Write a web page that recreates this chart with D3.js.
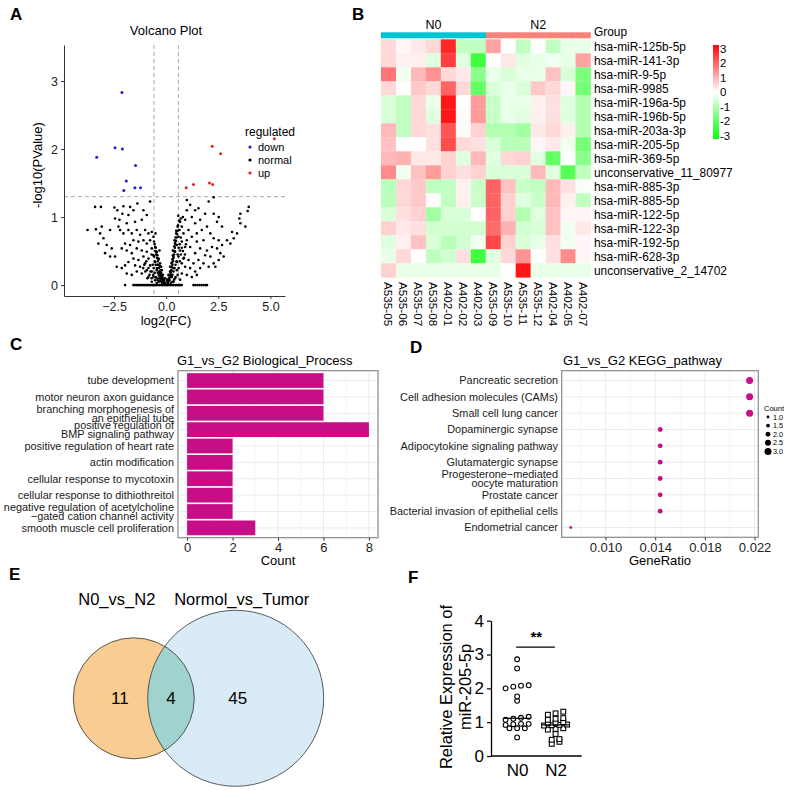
<!DOCTYPE html>
<html>
<head>
<meta charset="utf-8">
<script src="https://cdn.jsdelivr.net/npm/d3@7"></script>
<style>
body { margin: 0; background: #fff; }
text { font-family: "Liberation Sans", Arial, sans-serif; fill: #000; }
</style>
</head>
<body>
<svg width="790" height="790"></svg>
<script>
// ---------- A: volcano ----------
const downPts = [[-3.33,1.88],[-2.45,2.02],[-2.12,2.83],[-2.1,2.0],[-1.47,1.76],[-1.91,1.53],[-2.03,1.39],[-1.5,1.43],[-1.23,1.43]];
const upPts = [[0.96,1.43],[1.31,1.48],[2.08,1.5],[2.23,1.48],[2.21,2.04],[2.61,1.93],[5.19,2.15]];
const normalPts = [
  [-3.41,1.15],[-3.13,1.15],[-3.77,0.81],[-3.37,0.82],[-3.09,0.86],[-2.48,1.14],[-2.34,1.1],[-2.05,1.16],[-2.1,1.05],
  [-2.45,0.98],[-2.24,0.96],[-1.73,1.15],[-1.38,1.2],[-1.57,1.1],[-1.81,1.03],[-1.09,1.1],[-0.77,1.23],[-0.93,1.03],
  [-1.17,0.96],[-1.49,0.93],[-1.89,0.91],[-2.29,0.86],[-2.69,0.81],[-3.17,0.76],[-3.01,0.69],[-3.25,0.61],[-2.85,0.59],
  [-2.61,0.54],[-2.93,0.47],[-2.69,0.42],[-2.45,0.42],[-2.37,0.27],[-2.13,0.25],[-1.97,0.29],[-2.21,0.81],[-2.05,0.76],
  [-1.81,0.81],[-1.65,0.76],[-1.41,0.81],[-1.25,0.74],[-1.01,0.81],[-0.85,0.76],[-0.69,0.78],[-0.61,0.71],[-0.77,0.66],
  [-0.93,0.61],[-1.09,0.66],[-1.33,0.64],[-1.57,0.66],[-1.73,0.59],[-1.97,0.61],[-2.13,0.54],[-1.89,0.51],[-1.65,0.47],
  [-1.41,0.54],[-1.17,0.51],[-0.93,0.49],[-0.69,0.54],[-0.53,0.56],[-0.45,0.49],[-0.61,0.44],[-0.85,0.39],[-1.09,0.42],
  [-1.33,0.37],[-1.57,0.39],[-1.81,0.34],[-1.49,0.29],[-1.25,0.27],[-1.01,0.32],[-0.77,0.29],[-0.53,0.34],[-0.37,0.39],
  [-0.29,0.32],[-0.45,0.25],[-0.69,0.2],[-0.93,0.22],[-1.17,0.17],[-1.41,0.2],[-1.65,0.15],[-1.89,0.17],[-0.85,0.12],
  [-0.61,0.12],[-0.37,0.17],[-0.21,0.22],[-0.16,0.15],[-0.32,0.1],[-0.53,0.07],[-0.13,0.07],[-0.21,0.05],[-0.06,0.1],
  [-0.05,0.03],[-0.45,0.03],[-0.69,0.05],[-0.24,0.27],[-0.42,0.44],[-0.32,0.51],[-0.58,0.64],[-0.51,0.76],
  [-0.55,0.6],[-0.5,0.55],[-0.48,0.45],[-0.44,0.4],[-0.4,0.35],[-0.38,0.3],[-0.35,0.25],[-0.33,0.2],[-0.3,0.18],
  [-0.28,0.15],[-0.25,0.12],[-0.22,0.1],[-0.2,0.08],[-0.18,0.06],[-0.15,0.05],[-0.12,0.04],[-0.1,0.03],[-0.08,0.02],
  [-0.05,0.01],[-0.52,0.5],[-0.46,0.48],[-0.42,0.3],[-0.36,0.38],[-0.3,0.28],[-0.26,0.22],[-0.24,0.18],[-0.2,0.14],
  [-0.17,0.11],[-0.14,0.09],[-0.11,0.07],[-0.09,0.05],[-0.58,0.42],[-0.55,0.35],[-0.5,0.3],[-0.45,0.22],[-0.4,0.18],
  [-0.35,0.14],[-0.3,0.1],[-0.27,0.07],[-0.23,0.05],[-0.19,0.03],[-0.6,0.25],[-0.55,0.18],[-0.5,0.12],[-0.45,0.1],
  [-0.4,0.07],[-0.35,0.05],[-0.62,0.15],[-0.7,0.1],[-0.65,0.3],[-0.7,0.45],[-0.75,0.2],[-0.8,0.15],[-0.85,0.25],
  [-0.9,0.1],[-1.0,0.2],[-0.95,0.35],[-1.05,0.3],[-1.1,0.25],
  [0.99,1.25],[2.28,1.29],[2.04,1.23],[1.39,1.1],[1.55,1.13],[1.15,1.18],[0.99,1.1],[3.96,1.15],[3.91,1.09],[3.56,1.05],
  [3.51,0.98],[3.56,0.91],[3.8,0.86],[2.44,0.93],[2.68,0.86],[3.24,0.69],[3.08,0.61],[2.92,0.66],[1.96,0.86],[1.71,0.81],
  [1.47,0.76],[1.79,0.66],[2.12,0.76],[2.28,0.69],[2.52,0.66],[2.68,0.59],[2.44,0.54],[2.2,0.56],[1.96,0.51],[1.63,0.54],
  [1.39,0.47],[1.15,0.56],[0.99,0.66],[0.83,0.76],[0.75,0.86],[0.67,0.93],[0.8,1.0],[0.91,0.96],[0.64,0.81],[0.59,0.71],
  [0.75,0.64],[0.91,0.56],[0.67,0.51],[0.51,0.59],[0.43,0.49],[0.59,0.42],[0.83,0.39],[1.07,0.37],[1.31,0.32],[1.55,0.37],
  [1.79,0.32],[2.04,0.27],[2.28,0.32],[2.52,0.37],[2.76,0.42],[2.6,0.47],[2.36,0.27],[2.12,0.42],[1.87,0.44],[1.63,0.25],
  [1.39,0.2],[1.15,0.25],[0.91,0.27],[0.75,0.32],[0.51,0.34],[0.35,0.42],[0.27,0.32],[0.35,0.25],[0.51,0.22],[0.75,0.17],
  [0.99,0.15],[1.23,0.12],[1.47,0.15],[0.19,0.2],[0.11,0.15],[0.27,0.12],[0.43,0.1],[0.67,0.08],[0.16,0.07],[0.06,0.05],
  [0.22,0.03],[0.35,0.05],[0.03,0.08],[0.19,0.27],[0.32,0.51],[0.4,0.66],[0.48,0.76],[0.55,0.86],[3.16,0.78],[3.4,0.76],
  [2.28,1.05],[2.52,1.0],[1.63,0.96],[1.87,1.05],[1.23,1.0],[1.39,0.91],[1.07,0.81],[1.23,0.71],[1.47,0.64],
  [0.05,0.01],[0.08,0.03],[0.1,0.05],[0.12,0.07],[0.15,0.09],[0.18,0.12],[0.2,0.15],[0.22,0.18],[0.25,0.22],[0.28,0.26],
  [0.3,0.3],[0.33,0.35],[0.35,0.4],[0.38,0.45],[0.4,0.5],[0.42,0.55],[0.45,0.6],[0.47,0.65],[0.5,0.7],[0.52,0.75],
  [0.55,0.8],[0.57,0.88],[0.13,0.1],[0.16,0.14],[0.2,0.2],[0.24,0.27],[0.27,0.33],[0.3,0.38],[0.32,0.44],[0.36,0.5],
  [0.39,0.57],[0.42,0.62],[0.45,0.7],[0.48,0.8],[0.25,0.12],[0.3,0.15],[0.35,0.2],[0.4,0.25],[0.45,0.3],[0.5,0.35],
  [0.55,0.45],[0.6,0.55],[0.65,0.6],[0.7,0.7],[0.3,0.05],[0.38,0.08],[0.45,0.12],[0.55,0.15],[0.6,0.25],[0.65,0.35],
  [0.7,0.45],[0.75,0.55],[0.8,0.5],[0.85,0.4],[0.9,0.45],[0.95,0.6],[0.62,0.95],[0.58,1.02],[0.7,0.98]
];
const zeroLineFC = [-1.97,-1.57,-1.5,-1.42,-1.35,-1.27,-1.2,-1.12,-1.05,-0.97,-0.9,-0.82,-0.75,-0.67,-0.6,-0.52,-0.45,
  -0.37,-0.3,-0.22,-0.15,-0.07,0,0.07,0.15,0.22,0.3,0.37,0.45,0.52,0.6,0.67,0.75,1.31,1.4,1.5,1.6,1.7,1.8,1.9,1.96];
const fcCut = 0.585, pCut = 1.3;
const volcanoXTicks = [-2.5, 0, 2.5, 5];
const volcanoYTicks = [0, 1, 2, 3];
const regLevels = ['down', 'normal', 'up'];
const regColors = ['#1f1fd0', '#000000', '#e8201c'];

// ---------- B: heatmap ----------
const groupN0 = ['A535-05','A535-06','A535-07','A535-08','A402-01','A402-02','A402-03'];
const groupN2 = ['A535-09','A535-10','A535-11','A535-12','A402-04','A402-05','A402-07'];
const mirnas = ['hsa-miR-125b-5p','hsa-miR-141-3p','hsa-miR-9-5p','hsa-miR-9985','hsa-miR-196a-5p','hsa-miR-196b-5p',
  'hsa-miR-203a-3p','hsa-miR-205-5p','hsa-miR-369-5p','unconservative_11_80977','hsa-miR-885-3p','hsa-miR-885-5p',
  'hsa-miR-122-5p','hsa-miR-122-3p','hsa-miR-192-5p','hsa-miR-628-3p','unconservative_2_14702'];
const heatValues = [
  [0.5,0.1,0.3,0.5,2.8,-0.8,-0.8,1.2,0,-0.8,0,-0.8,-0.3,-0.3],
  [0.5,0.2,0.2,-0.4,2.5,-0.4,-2.5,0,0.3,-0.4,-0.3,-0.2,-0.3,1.2],
  [1.8,-0.2,0.9,1.4,0.5,0.3,-1.5,-0.3,-0.5,-0.3,-0.3,0.8,-0.5,-1.7],
  [0.5,0,0.7,0.5,2.0,0.5,-2.0,-0.5,-0.3,-0.5,0.7,0.5,0.1,-1.8],
  [-0.5,-0.8,0.5,-0.3,3.0,0,1.3,-0.7,-0.3,-0.3,0.2,0.4,-0.4,-1.0],
  [-0.5,-0.8,0.5,-0.4,3.0,0.05,1.3,-0.7,-0.3,-0.4,0.2,0.4,-0.4,-1.0],
  [0.9,-0.8,0.5,0.4,2.2,0.05,0.6,-1.0,-1.0,-1.2,0.3,0.5,0.2,-1.0],
  [0.8,0,0,0.4,2.3,0.5,0.4,-0.5,-0.9,-0.9,0.1,0.3,-0.2,-1.8],
  [0.9,1.0,0.3,0.3,0.6,-0.4,0.9,-0.4,0.5,0.6,-0.4,-2.0,0,-1.5],
  [1.5,-0.2,0.8,1.3,0.6,0.4,0.6,-0.5,-0.5,-0.5,0.9,-0.4,-2.2,-0.8],
  [-0.9,0.5,0.7,-0.8,-0.8,0.2,-0.7,2.0,0.8,-0.7,-0.8,0.9,0.4,-0.1],
  [-0.9,0.5,0.7,0,-0.8,0.2,-0.7,2.0,0.6,-0.4,-0.7,0.9,0.2,-0.8],
  [-0.5,0.4,0.6,-1.2,-0.5,-0.5,0,2.0,0.6,-1.0,-0.4,0.8,0.1,0.1],
  [0.6,0.3,0.4,-0.6,-0.6,-0.6,-0.6,1.9,1.0,-0.6,-0.5,0.8,-0.2,0.3],
  [-0.4,0.2,0.8,-0.5,-0.9,-0.6,-0.2,2.4,0.6,-0.5,-0.3,0.4,-0.2,0.1],
  [-0.3,0.5,0,-0.8,-0.6,0.4,-2.5,-0.4,0.5,1.4,0,0.4,1.5,0.1],
  [0.6,-0.3,-0.3,-0.3,-0.3,-0.3,-0.3,-0.3,0,3.0,-0.3,-0.3,-0.3,-0.3]
];
const heatLegendTicks = [3, 2, 1, 0, -1, -2, -3];

// ---------- C: GO biological process ----------
const bpTerms = ['tube development','motor neuron axon guidance','branching morphogenesis of|an epithelial tube',
  'positive regulation of|BMP signaling pathway','positive regulation of heart rate','actin modification',
  'cellular response to mycotoxin','cellular response to dithiothreitol',
  'negative regulation of acetylcholine|\u2212gated cation channel activity','smooth muscle cell proliferation'];
const bpCounts = [6, 6, 6, 8, 2, 2, 2, 2, 2, 3];
const bpTicks = [0, 2, 4, 6, 8];

// ---------- D: KEGG ----------
const keggTerms = ['Pancreatic secretion','Cell adhesion molecules (CAMs)','Small cell lung cancer','Dopaminergic synapse',
  'Adipocytokine signaling pathway','Glutamatergic synapse','Progesterone\u2212mediated|oocyte maturation',
  'Prostate cancer','Bacterial invasion of epithelial cells','Endometrial cancer'];
const keggCounts = [3, 3, 3, 2, 2, 2, 2, 2, 2, 1];
const keggRatios = [0.0216, 0.0216, 0.0216, 0.0144, 0.0144, 0.0144, 0.0144, 0.0144, 0.0144, 0.0072];
const keggTicks = [0.010, 0.014, 0.018, 0.022];
const countLegend = [1.0, 1.5, 2.0, 2.5, 3.0];

// ---------- E: Venn ----------
const vennSets = ['N0_vs_N2', 'Normol_vs_Tumor'];
const vennOnly = [11, 45];
const vennBoth = 4;

// ---------- F: scatter ----------
const fGroups = ['N0', 'N2'];
const n0Values = [2.86,2.59,2.08,2.0,2.05,2.09,1.76,1.63,1.16,1.13,1.07,1.1,0.92,0.94,0.95,0.95,0.82,0.82,0.82,0.55];
const n2Values = [1.31,1.26,1.22,1.1,1.07,1.12,1.0,0.98,0.97,0.93,0.92,0.91,0.9,0.8,0.78,0.82,0.65,0.5,0.48,0.42,0.36];
const fTicks = [0, 1, 2, 3, 4];

const magenta = '#C70E86';
const svg = d3.select('svg');
svg.append('rect').attr('width', 790).attr('height', 790).attr('fill', '#fff');

const letters = [['A', 10, 20], ['B', 352, 20], ['C', 10, 350], ['D', 410, 353], ['E', 9, 580], ['F', 408, 583]];
letters.forEach(l => svg.append('text').attr('x', l[1]).attr('y', l[2])
  .style('font-size', '17px').style('font-weight', 'bold').text(l[0]));

function styleAxis(g, size, color) {
  g.selectAll('text').style('font-size', size + 'px').style('fill', color);
  g.selectAll('line').attr('stroke', '#333');
  g.select('.domain').attr('stroke', '#333');
}

// ===== A =====
{
  const x = d3.scaleLinear().domain([-4.9, 5.7]).range([64, 285]);
  const y = d3.scaleLinear().domain([-0.16, 3.53]).range([296, 45]);
  const g = svg.append('g');
  g.append('text').attr('x', 166).attr('y', 35).attr('text-anchor', 'middle').style('font-size', '13px').text('Volcano Plot');
  [-fcCut, fcCut].forEach(v => g.append('line').attr('x1', x(v)).attr('x2', x(v)).attr('y1', 45).attr('y2', 296)
    .attr('stroke', '#a8a8a8').attr('stroke-dasharray', '4,3'));
  g.append('line').attr('x1', 64).attr('x2', 285).attr('y1', y(pCut)).attr('y2', y(pCut))
    .attr('stroke', '#a8a8a8').attr('stroke-dasharray', '4,3');
  const all = normalPts.concat(zeroLineFC.map(v => [v, 0]));
  g.selectAll('.n').data(all).join('circle').attr('cx', d => x(d[0])).attr('cy', d => y(d[1])).attr('r', 1.3).attr('fill', '#000');
  g.selectAll('.d').data(downPts).join('circle').attr('cx', d => x(d[0])).attr('cy', d => y(d[1])).attr('r', 1.5).attr('fill', regColors[0]);
  g.selectAll('.u').data(upPts).join('circle').attr('cx', d => x(d[0])).attr('cy', d => y(d[1])).attr('r', 1.5).attr('fill', regColors[2]);
  const xa = g.append('g').attr('transform', 'translate(0,296)')
    .call(d3.axisBottom(x).tickValues(volcanoXTicks).tickFormat(d3.format('.1f')).tickSize(3).tickSizeOuter(0));
  const ya = g.append('g').attr('transform', 'translate(64,0)')
    .call(d3.axisLeft(y).tickValues(volcanoYTicks).tickFormat(d3.format('d')).tickSize(3).tickSizeOuter(0));
  styleAxis(xa, 12.5, '#222'); styleAxis(ya, 12.5, '#222');
  g.append('text').attr('x', 166).attr('y', 325).attr('text-anchor', 'middle').style('font-size', '13px').text('log2(FC)');
  g.append('text').attr('transform', 'translate(42,165) rotate(-90)').attr('text-anchor', 'middle').style('font-size', '13px').text('-log10(PValue)');
  g.append('text').attr('x', 245).attr('y', 136).style('font-size', '12px').text('regulated');
  regLevels.forEach((r, i) => {
    g.append('circle').attr('cx', 250).attr('cy', 147 + i * 13).attr('r', 1.6).attr('fill', regColors[i]);
    g.append('text').attr('x', 258).attr('y', 151 + i * 13).style('font-size', '11px').text(r);
  });
}

// ===== B =====
{
  const samples = groupN0.concat(groupN2);
  const x = d3.scaleBand().domain(samples).range([381, 590.5]);
  const y = d3.scaleBand().domain(mirnas).range([39.3, 277.3]);
  const color = d3.scaleLinear().domain([-3.3, 0, 3.3]).range(['#00ff00', '#ffffff', '#ff0000']).clamp(true);
  const g = svg.append('g');
  const cells = [];
  heatValues.forEach((row, r) => row.forEach((v, c) => cells.push({ m: mirnas[r], s: samples[c], v })));
  g.selectAll('.cell').data(cells).join('rect').attr('x', d => x(d.s)).attr('y', d => y(d.m))
    .attr('width', x.bandwidth() + 0.3).attr('height', y.bandwidth() + 0.3).attr('fill', d => color(d.v));
  g.selectAll('.grp').data(samples).join('rect').attr('x', d => x(d)).attr('y', 32.3)
    .attr('width', x.bandwidth() + 0.3).attr('height', 6).attr('fill', d => groupN0.includes(d) ? '#00C5CF' : '#F6837A');
  g.append('text').attr('x', d3.mean(groupN0, d => x(d)) + x.bandwidth() / 2).attr('y', 29).attr('text-anchor', 'middle').style('font-size', '12.5px').text('N0');
  g.append('text').attr('x', d3.mean(groupN2, d => x(d)) + x.bandwidth() / 2).attr('y', 29).attr('text-anchor', 'middle').style('font-size', '12.5px').text('N2');
  g.append('text').attr('x', 594).attr('y', 35.5).style('font-size', '11.9px').text('Group');
  g.selectAll('.rl').data(mirnas).join('text').attr('x', 594).attr('y', d => y(d) + y.bandwidth() / 2)
    .attr('dy', '0.36em').style('font-size', '11.9px').text(d => d);
  g.selectAll('.cl').data(samples).join('text')
    .attr('transform', d => `translate(${x(d) + x.bandwidth() / 2},282) rotate(90)`)
    .attr('dy', '0.36em').style('font-size', '11.7px').text(d => d);
  // colour key
  const ly = d3.scaleLinear().domain([-3.25, 3.25]).range([139, 45]);
  const grad = svg.append('defs').append('linearGradient').attr('id', 'hg').attr('x1', 0).attr('x2', 0).attr('y1', 1).attr('y2', 0);
  [-3.25, 0, 3.25].forEach((v, i) => grad.append('stop').attr('offset', i / 2).attr('stop-color', color(v)));
  g.append('rect').attr('x', 713).attr('y', ly(3.25)).attr('width', 6).attr('height', ly(-3.25) - ly(3.25)).attr('fill', 'url(#hg)');
  g.selectAll('.lt').data(heatLegendTicks).join('text').attr('x', 720).attr('y', d => ly(d)).attr('dy', '0.36em')
    .style('font-size', '11.5px').text(d => d);
}

// ===== helper for C / D term labels =====
function termLabels(g, terms, y, xr) {
  terms.forEach(t => {
    const lines = t.split('|');
    const tx = g.append('text').attr('text-anchor', 'end').style('font-size', '10.9px').style('fill', '#1a1a1a');
    lines.forEach((l, i) => tx.append('tspan').attr('x', xr)
      .attr('y', y(t) + (i - (lines.length - 1) / 2) * 9.2).attr('dy', '0.36em').text(l));
  });
}

// ===== C =====
{
  const x = d3.scaleLinear().domain([-0.4, 8.4]).range([178, 378]);
  const y = d3.scalePoint().domain(bpTerms).range([370.7, 537.7]).padding(0.6);
  const g = svg.append('g');
  d3.range(0, 9).forEach(v => g.append('line').attr('x1', x(v)).attr('x2', x(v)).attr('y1', 370.7).attr('y2', 537.7)
    .attr('stroke', '#ebebeb').attr('stroke-width', v % 2 ? 0.5 : 1));
  bpTerms.forEach(t => g.append('line').attr('x1', 178).attr('x2', 378).attr('y1', y(t)).attr('y2', y(t)).attr('stroke', '#ebebeb'));
  const h = y.step() * 0.9;
  g.selectAll('.bar').data(bpTerms).join('rect').attr('x', x(0)).attr('y', t => y(t) - h / 2)
    .attr('width', (t, i) => x(bpCounts[i]) - x(0)).attr('height', h).attr('fill', magenta);
  g.append('rect').attr('x', 178).attr('y', 370.7).attr('width', 200).attr('height', 167).attr('fill', 'none')
    .attr('stroke', '#8a8a8a').attr('stroke-width', 1.2);
  const xa = g.append('g').attr('transform', 'translate(0,537.7)')
    .call(d3.axisBottom(x).tickValues(bpTicks).tickSize(3).tickPadding(2).tickSizeOuter(0));
  xa.select('.domain').remove();
  styleAxis(xa, 13, '#222');
  g.append('text').attr('x', 278).attr('y', 565).attr('text-anchor', 'middle').style('font-size', '13px').text('Count');
  g.append('text').attr('x', 177).attr('y', 365).style('font-size', '13px').text('G1_vs_G2 Biological_Process');
  termLabels(g, bpTerms, y, 174);
}

// ===== D =====
{
  const x = d3.scaleLinear().domain([0.00647, 0.0223]).range([561.7, 758.3]);
  const y = d3.scalePoint().domain(keggTerms).range([370.7, 537.3]).padding(0.6);
  const r = d3.scaleLinear().domain([1, 3]).range([1.4, 3.5]);
  const g = svg.append('g');
  [0.008, 0.012, 0.016, 0.020].forEach(v => g.append('line').attr('x1', x(v)).attr('x2', x(v)).attr('y1', 370.7).attr('y2', 537.3)
    .attr('stroke', '#ebebeb').attr('stroke-width', 0.5));
  keggTicks.forEach(v => g.append('line').attr('x1', x(v)).attr('x2', x(v)).attr('y1', 370.7).attr('y2', 537.3)
    .attr('stroke', '#ebebeb'));
  keggTerms.forEach(t => g.append('line').attr('x1', 561.7).attr('x2', 758.3).attr('y1', y(t)).attr('y2', y(t)).attr('stroke', '#ebebeb'));
  g.selectAll('.dot').data(keggTerms).join('circle').attr('cx', (t, i) => x(keggRatios[i])).attr('cy', t => y(t))
    .attr('r', (t, i) => r(keggCounts[i])).attr('fill', magenta);
  g.append('rect').attr('x', 561.7).attr('y', 370.7).attr('width', 196.6).attr('height', 166.6).attr('fill', 'none')
    .attr('stroke', '#8a8a8a').attr('stroke-width', 1.2);
  const xa = g.append('g').attr('transform', 'translate(0,537.3)')
    .call(d3.axisBottom(x).tickValues(keggTicks).tickFormat(d3.format('.3f')).tickSize(3).tickPadding(2).tickSizeOuter(0));
  xa.select('.domain').remove();
  styleAxis(xa, 13, '#222');
  g.append('text').attr('x', 660).attr('y', 565).attr('text-anchor', 'middle').style('font-size', '13px').text('GeneRatio');
  g.append('text').attr('x', 563).attr('y', 365).style('font-size', '13px').text('G1_vs_G2 KEGG_pathway');
  termLabels(g, keggTerms, y, 558);
  g.append('text').attr('x', 764).attr('y', 411).style('font-size', '7.5px').text('Count');
  countLegend.forEach((c, i) => {
    g.append('circle').attr('cx', 768).attr('cy', 417 + i * 8.6).attr('r', r(c)).attr('fill', '#000');
    g.append('text').attr('x', 773).attr('y', 417 + i * 8.6).attr('dy', '0.36em').style('font-size', '7.3px').text(c.toFixed(1));
  });
}

// ===== E =====
{
  const sizes = [vennOnly[0] + vennBoth, vennOnly[1] + vennBoth];
  const rs = d3.scaleLinear().domain([15, 49]).range([60.5, 88]);
  const r1 = rs(sizes[0]), r2 = rs(sizes[1]);
  const cy = 698.3, cx1 = 73.3 + r1, overlap = 46.6;
  const cx2 = cx1 + r1 + r2 - overlap;
  const g = svg.append('g');
  const defs = svg.append('defs');
  defs.append('clipPath').attr('id', 'vc').append('circle').attr('cx', cx1).attr('cy', cy).attr('r', r1);
  g.append('circle').attr('cx', cx1).attr('cy', cy).attr('r', r1).attr('fill', '#F9CD92');
  g.append('circle').attr('cx', cx2).attr('cy', cy).attr('r', r2).attr('fill', '#D8EBF6');
  g.append('circle').attr('cx', cx2).attr('cy', cy).attr('r', r2).attr('fill', '#A0D3CD').attr('clip-path', 'url(#vc)');
  g.append('circle').attr('cx', cx1).attr('cy', cy).attr('r', r1).attr('fill', 'none').attr('stroke', '#333').attr('stroke-width', 0.8);
  g.append('circle').attr('cx', cx2).attr('cy', cy).attr('r', r2).attr('fill', 'none').attr('stroke', '#333').attr('stroke-width', 0.8);
  const fs = '17px';
  g.append('text').attr('x', cx1 - 14).attr('y', cy).attr('dy', '0.36em').attr('text-anchor', 'middle').style('font-size', fs).text(vennOnly[0]);
  g.append('text').attr('x', (cx2 - r2 + cx1 + r1) / 2).attr('y', cy).attr('dy', '0.36em').attr('text-anchor', 'middle').style('font-size', fs).text(vennBoth);
  g.append('text').attr('x', cx2 + 2).attr('y', cy).attr('dy', '0.36em').attr('text-anchor', 'middle').style('font-size', fs).text(vennOnly[1]);
  g.append('text').attr('x', cx1 - 17).attr('y', 605).attr('text-anchor', 'middle').style('font-size', '16.5px').text(vennSets[0]);
  g.append('text').attr('x', cx2 + 6).attr('y', 605).attr('text-anchor', 'middle').style('font-size', '16.5px').text(vennSets[1]);
}

// ===== F =====
{
  const x = d3.scalePoint().domain(fGroups).range([491, 581.7]).padding(0.68);
  const y = d3.scaleLinear().domain([0, 4]).range([756, 620.7]);
  const g = svg.append('g');
  // simple row-wise dot plot layout: near-equal values share a row, centred on the group
  function rows(vals, gx) {
    const out = [];
    let row = [];
    vals.slice().sort((a, b) => a - b).forEach(v => {
      if (row.length && (v - row[0] >= 0.1 || row.length === 4)) { out.push(row); row = []; }
      row.push(v);
    });
    if (row.length) out.push(row);
    const pts = [];
    out.forEach(r => r.forEach((v, i) => pts.push([gx + (i - (r.length - 1) / 2) * 7.7, y(v)])));
    return pts;
  }
  const p0 = rows(n0Values, x('N0'));
  const p2 = rows(n2Values, x('N2'));
  g.selectAll('.c0').data(p0).join('circle').attr('cx', d => d[0]).attr('cy', d => d[1]).attr('r', 2.4)
    .attr('fill', '#fff').attr('stroke', '#000').attr('stroke-width', 1.1);
  g.selectAll('.s2').data(p2).join('rect').attr('x', d => d[0] - 2.4).attr('y', d => d[1] - 2.4).attr('width', 4.8).attr('height', 4.8)
    .attr('fill', '#fff').attr('stroke', '#000').attr('stroke-width', 1.1);
  [[n0Values, 'N0'], [n2Values, 'N2']].forEach(([vals, k]) => {
    const m = d3.median(vals);
    g.append('line').attr('x1', x(k) - 13.5).attr('x2', x(k) + 13.5).attr('y1', y(m)).attr('y2', y(m)).attr('stroke', '#000').attr('stroke-width', 1.2);
  });
  g.append('line').attr('x1', x('N0') - 1).attr('x2', x('N2') - 0.7).attr('y1', y(3.22)).attr('y2', y(3.22)).attr('stroke', '#000').attr('stroke-width', 1.1);
  g.append('text').attr('x', (x('N0') + x('N2')) / 2).attr('y', y(3.38)).attr('text-anchor', 'middle').style('font-size', '15px').style('font-weight', 'bold').text('**');
  const ya = g.append('g').attr('transform', 'translate(491,0)')
    .call(d3.axisLeft(y).tickValues(fTicks).tickFormat(d3.format('d')).tickSize(4).tickSizeOuter(0));
  const xa = g.append('g').attr('transform', 'translate(0,756)')
    .call(d3.axisBottom(x).tickSize(0).tickPadding(8));
  [ya, xa].forEach(a => {
    a.selectAll('text').style('font-size', '17px').style('fill', '#000');
    a.selectAll('line').attr('stroke', '#000').attr('stroke-width', 1.2);
    a.select('.domain').attr('stroke', '#000').attr('stroke-width', 1.3);
  });
  xa.select('.domain').attr('d', 'M491,0H581.7');
  g.append('text').attr('transform', 'translate(452,687) rotate(-90)').attr('text-anchor', 'middle').style('font-size', '16.5px').text('Relative Expression of');
  g.append('text').attr('transform', 'translate(471,687) rotate(-90)').attr('text-anchor', 'middle').style('font-size', '16.5px').text('miR-205-5p');
}
</script>
</body>
</html>
